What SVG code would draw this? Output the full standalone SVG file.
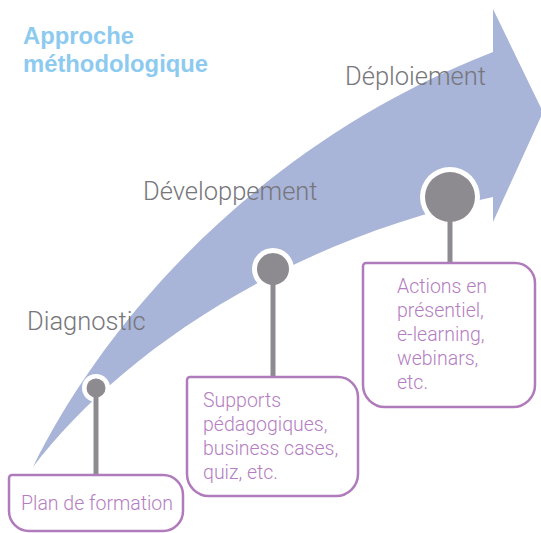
<svg xmlns="http://www.w3.org/2000/svg" width="541" height="533" viewBox="0 0 541 533">
<style>
.title{font-family:"Liberation Sans",Arial,sans-serif;font-weight:bold;font-size:23.8px;fill:#8dcaef}
.phase{font-family:Roboto,"Liberation Sans",sans-serif;font-weight:300;font-size:25.5px;fill:#77767b}
.box{fill:#ffffff;stroke:#b07bba;stroke-width:2.5}
.btxt{font-family:Roboto,"Liberation Sans",sans-serif;font-weight:300;font-size:19.5px;fill:#b47ec1}
.ring{fill:#ffffff}
.dot{fill:#8e8b90}
.stem{stroke:#8e8b90;stroke-width:5;fill:none}
</style>
<rect width="541" height="533" fill="#ffffff"/>
<g id="arrow">
<path d="M 33 467 C 100 330, 250 147, 493 52 L 493 9 L 543 112 L 493 222 L 493 197 C 270 245, 110 365, 33 467 Z" fill="#a8b4d8"/>
</g>
<g id="title">
<text class="title" x="23" y="44">Approche</text>
<text class="title" x="23" y="72">méthodologique</text>
</g>
<g id="phase-diagnostic"><text class="phase" x="27" y="330">Diagnostic</text></g>
<g id="phase-developpement"><text class="phase" x="143" y="200">Développement</text></g>
<g id="phase-deploiement"><text class="phase" x="345" y="85">Déploiement</text></g>
<g id="rings">
<circle class="ring" cx="96" cy="388" r="14"/>
<circle class="ring" cx="273" cy="269" r="21"/>
<circle class="ring" cx="450" cy="197" r="30"/>
</g>
<g id="connectors">
<line class="stem" x1="96" y1="388" x2="96" y2="476"/>
<line class="stem" x1="273" y1="269" x2="273" y2="378"/>
<line class="stem" x1="450" y1="197" x2="450" y2="264"/>
</g>
<g id="milestones">
<circle class="dot" cx="96" cy="388" r="9.5"/>
<circle class="dot" cx="273" cy="269" r="16"/>
<circle class="dot" cx="450" cy="197" r="25"/>
</g>
<g id="node-plan">
<path class="box" d="M 12 475 H 163 A 20 20 0 0 1 183 495 V 511 A 20 20 0 0 1 163 531 H 29 A 20 20 0 0 1 9 511 V 478 A 3 3 0 0 1 12 475 Z"/>
<text class="btxt" x="21" y="510">Plan de formation</text>
</g>
<g id="node-supports">
<path class="box" d="M 190 377 H 338 A 20 20 0 0 1 358 397 V 474 A 22 22 0 0 1 336 496 H 209 A 22 22 0 0 1 187 474 V 380 A 3 3 0 0 1 190 377 Z"/>
<text class="btxt" x="203" y="407">Supports</text>
<text class="btxt" x="203" y="431">pédagogiques,</text>
<text class="btxt" x="203" y="455">business cases,</text>
<text class="btxt" x="203" y="479">quiz, etc.</text>
</g>
<g id="node-actions">
<path class="box" d="M 366 263 H 515 A 20 20 0 0 1 535 283 V 385 A 22 22 0 0 1 513 407 H 385 A 22 22 0 0 1 363 385 V 266 A 3 3 0 0 1 366 263 Z"/>
<text class="btxt" x="397" y="293">Actions en</text>
<text class="btxt" x="397" y="317">présentiel,</text>
<text class="btxt" x="397" y="341">e-learning,</text>
<text class="btxt" x="397" y="365">webinars,</text>
<text class="btxt" x="397" y="389">etc.</text>
</g>
</svg>
